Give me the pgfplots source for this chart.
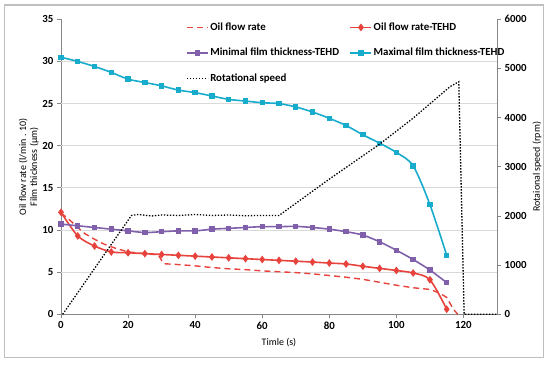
\documentclass[border=0pt]{standalone}
\usepackage{fontspec}
\setmainfont{Carlito}[BoldFont={Carlito Bold}]
\usepackage{pgfplots}
\pgfplotsset{compat=1.18}
\definecolor{cred}{RGB}{232,66,60}
\definecolor{cpurple}{RGB}{128,96,170}
\definecolor{ccyan}{RGB}{24,172,204}
\definecolor{gridc}{RGB}{217,217,217}
\definecolor{axc}{RGB}{134,134,134}
\newcommand{\cf}{\fontsize{10.9}{14}\selectfont\bfseries}
\pgfplotsset{
  commonax/.style={
    at={(61bp,49.7bp)}, anchor=south west, scale only axis,
    width=436bp, height=295bp, xmin=0, xmax=130, clip=false,
    tick align=outside, major tick length=4bp,
    tick style={draw=axc, line width=0.8bp},
    axis line style={-, draw=axc, line width=0.9bp},
    ticklabel style={font=\cf, text=black},
    /pgf/number format/assume math mode=true,
    /pgf/number format/1000 sep={},
    scaled ticks=false,
    label style={font=\cf, text=black},
  },
  sdash/.style={draw=cred, line width=1.4bp, dash pattern=on 6bp off 4bp},
  sred/.style={draw=cred, line width=1.6bp, mark=diamond*, mark size=2.6bp, mark options={solid, draw=cred, fill=cred}},
  spur/.style={draw=cpurple, line width=1.6bp, mark=square*, mark size=1.9bp, mark options={solid, draw=cpurple, fill=cpurple}},
  scyan/.style={draw=ccyan, line width=1.6bp, mark=square*, mark size=1.9bp, mark options={solid, draw=ccyan, fill=ccyan}},
  sdot/.style={draw=black, line width=1.3bp, dash pattern=on 1.4bp off 1.6bp},
}
\begin{document}
\begin{tikzpicture}[x=1bp,y=1bp]
\path[use as bounding box] (0,0) rectangle (550,364);
\draw[gray!50, line width=1.2bp] (4.5,6.5) rectangle (543.5,359);
\begin{axis}[commonax,
  ymin=0, ymax=35,
  axis x line*=bottom, axis y line*=left,
  xtick={0,20,...,120},
  ytick={0,5,...,35},
  extra y ticks={5,10,...,30},
  extra y tick labels={},
  extra y tick style={grid=major, major tick length=0pt},
  major grid style={draw=gridc, line width=0.9bp},
  xlabel={Timle (s)},
  ylabel={Oil flow rate (l/min . 10)\\[-1bp]Film thickness (µm)},
  every axis x label/.style={at={(axis description cs:0.5,-0.097)}, anchor=center},
  every axis y label/.style={at={(axis description cs:-0.074,0.5)}, rotate=90, anchor=center, align=center},
  legend columns=2,
  legend cell align=left,
  legend style={draw=none, fill=none, at={(axis description cs:0.2867,0.996)}, anchor=north west,
    font=\cf, inner sep=0pt, row sep=12bp,
    /tikz/every even column/.append style={column sep=9bp},
    nodes={inner sep=1.5bp, text height=8bp, text depth=2.5bp}},
  legend image code/.code={\draw[mark repeat=2,mark phase=2,#1] plot coordinates {(0bp,0bp) (10.5bp,0bp) (21bp,0bp)};},
]
\addplot[sdash, forget plot] coordinates {
(0,12.0) (2,11.4) (5,10.3) (7,9.6) (10,8.9) (13,8.3) (16.5,7.8) (20,7.4) (25,7.2) (29,7.05)
(30,6.4) (30.8,6.0) (35,5.9) (40,5.75) (45,5.55) (50,5.4) (55,5.3) (60,5.15) (65,5.05)
(70,4.95) (75,4.8) (80,4.6) (85,4.4) (90,4.15) (95,3.8) (100,3.45) (105,3.15) (110,2.95)
(113,2.5) (115,2.0) (117,0.6) (118.3,0)
};
\addplot[sred, smooth, tension=0.5, forget plot] coordinates {
(0,12.1) (5,9.3) (10,8.1) (15,7.4) (20,7.3) (25,7.2) (30,7.1) (35,7.0) (40,6.9) (45,6.8)
(50,6.7) (55,6.6) (60,6.5) (65,6.4) (70,6.3) (75,6.2) (80,6.08) (85,5.97) (90,5.7)
(95,5.45) (100,5.2) (105,4.9) (110,4.1) (115,0.6)
};
\addplot[spur, smooth, tension=0.5, forget plot] coordinates {
(0,10.7) (5,10.5) (10,10.3) (15,10.1) (20,9.9) (25,9.7) (30,9.8) (35,9.9) (40,9.9) (45,10.1)
(50,10.2) (55,10.3) (60,10.4) (65,10.4) (70,10.43) (75,10.3) (80,10.1) (85,9.8) (90,9.4)
(95,8.6) (100,7.6) (105,6.5) (110,5.25) (115,3.75)
};
\addplot[scyan, smooth, tension=0.5, forget plot] coordinates {
(0,30.5) (5,30.0) (10,29.4) (15,28.7) (20,27.9) (25,27.5) (30,27.1) (35,26.6) (40,26.3)
(45,25.9) (50,25.5) (55,25.3) (60,25.1) (65,25.0) (70,24.6) (75,24.0) (80,23.25) (85,22.4)
(90,21.3) (95,20.3) (100,19.2) (105,17.6) (110,13.0) (115,7.0)
};
\addlegendimage{sdash}
\addlegendentry{Oil flow rate}
\addlegendimage{sred}
\addlegendentry{Oil flow rate-TEHD}
\addlegendimage{spur}
\addlegendentry{Minimal film thickness-TEHD}
\addlegendimage{scyan}
\addlegendentry{Maximal film thickness-TEHD}
\addlegendimage{sdot}
\addlegendentry{Rotational speed}
\end{axis}
\begin{axis}[commonax,
  ymin=0, ymax=6000,
  axis x line=none, axis y line*=right,
  ytick={0,1000,...,6000},
  ylabel={Rotaional speed (rpm)},
  every axis y label/.style={at={(axis description cs:1.092,0.5)}, rotate=90, anchor=center},
]
\addplot[sdot] coordinates {
(0.5,0) (21,2010) (23,2030) (27,2000) (30,2020) (35,2010) (40,2030) (45,2010) (50,2020)
(55,2005) (60,2010) (65,2010) (80,2750) (95,3460) (105,3990) (116,4630) (118.6,4730)
(120.2,0) (130,0)
};
\end{axis}
\end{tikzpicture}
\end{document}
